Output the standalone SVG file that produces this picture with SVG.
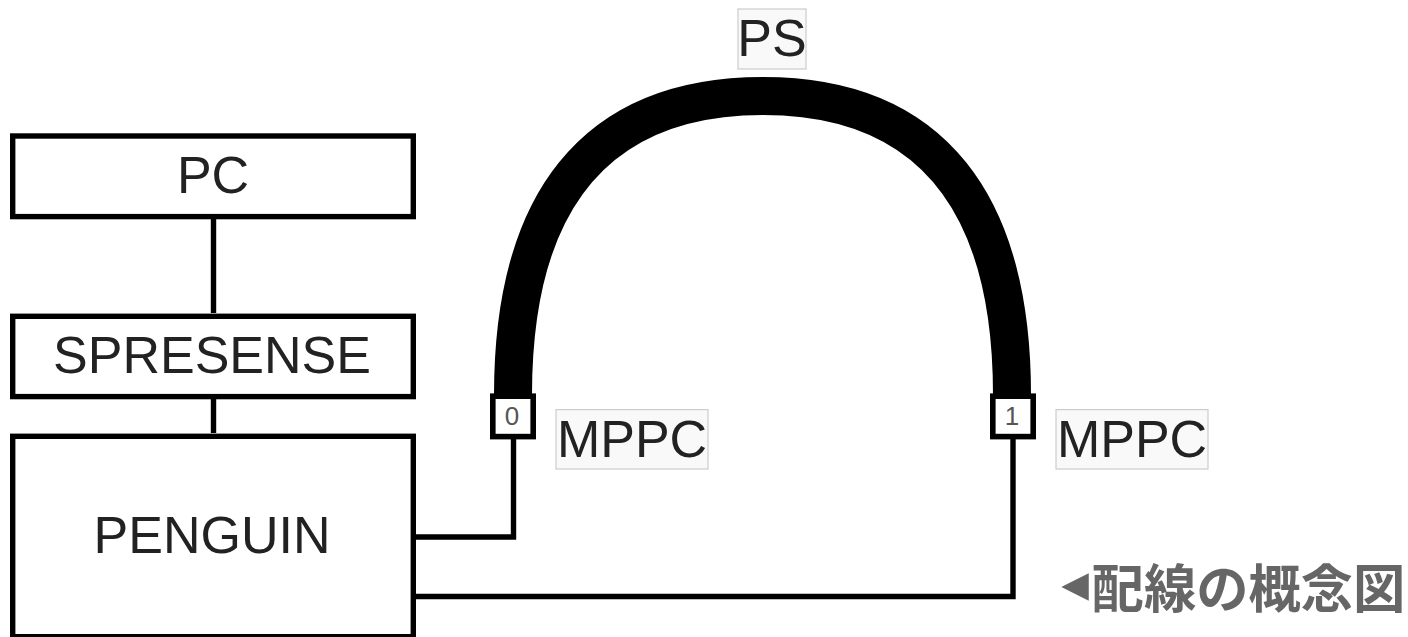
<svg xmlns="http://www.w3.org/2000/svg" width="1408" height="637" viewBox="0 0 1408 637">
<style>
text{font-family:"Liberation Sans",Arial,sans-serif;fill:#222;text-anchor:middle;font-size:52px}
.box{fill:#fff;stroke:#000;stroke-width:5.4}
.wire{fill:none;stroke:#000;stroke-width:5.4}
.label{fill:#f9f9f9;stroke:#ccc;stroke-width:1.2}
.port{fill:#fff;stroke:#000;stroke-width:5.6}
.pt{font-size:26px;fill:#555}
</style>
<rect width="1408" height="637" fill="#fff"/>
<g id="connectors">
<path class="wire" d="M213.5 219V313M213.5 399V433"/>
<path class="wire" d="M416 537H513.5V439"/>
<path class="wire" d="M416 596.5H1013V439"/>
<path id="ps-cable" fill="none" stroke="#000" stroke-width="38" d="M513 395C513 205 592 96 763 96C933 96 1012 205 1012 395"/>
</g>
<g id="pc"><rect class="box" x="12.7" y="136" width="400.6" height="80.6"/><text x="213" y="192.7">PC</text></g>
<g id="spresense"><rect class="box" x="12.7" y="316.3" width="400.6" height="80.3"/><text x="212" y="372.7">SPRESENSE</text></g>
<g id="penguin"><rect class="box" x="12.7" y="436.3" width="400.6" height="200.4"/><text x="212" y="552.7">PENGUIN</text></g>
<g id="port-0"><rect class="port" x="492.8" y="396.2" width="40.4" height="40.4"/><text class="pt" x="512" y="425">0</text></g>
<g id="port-1"><rect class="port" x="992.8" y="396.2" width="40.4" height="40.4"/><text class="pt" x="1012" y="425">1</text></g>
<g id="mppc-0"><rect class="label" x="556" y="409.6" width="152" height="59.4"/><text x="632" y="456.7">MPPC</text></g>
<g id="mppc-1"><rect class="label" x="1056" y="409.6" width="152" height="59.4"/><text x="1132" y="456.7">MPPC</text></g>
<g id="ps"><rect class="label" x="738" y="9" width="68" height="60"/><text x="772" y="56">PS</text></g>
<text style="font-family:'Liberation Sans','Noto Sans CJK JP',sans-serif;font-weight:700;font-size:52.3px;fill:#666"><tspan x="1075.5" y="600" style="font-size:50px">◂</tspan><tspan x="1248.5" y="608">配線の概念図</tspan></text>
</svg>
